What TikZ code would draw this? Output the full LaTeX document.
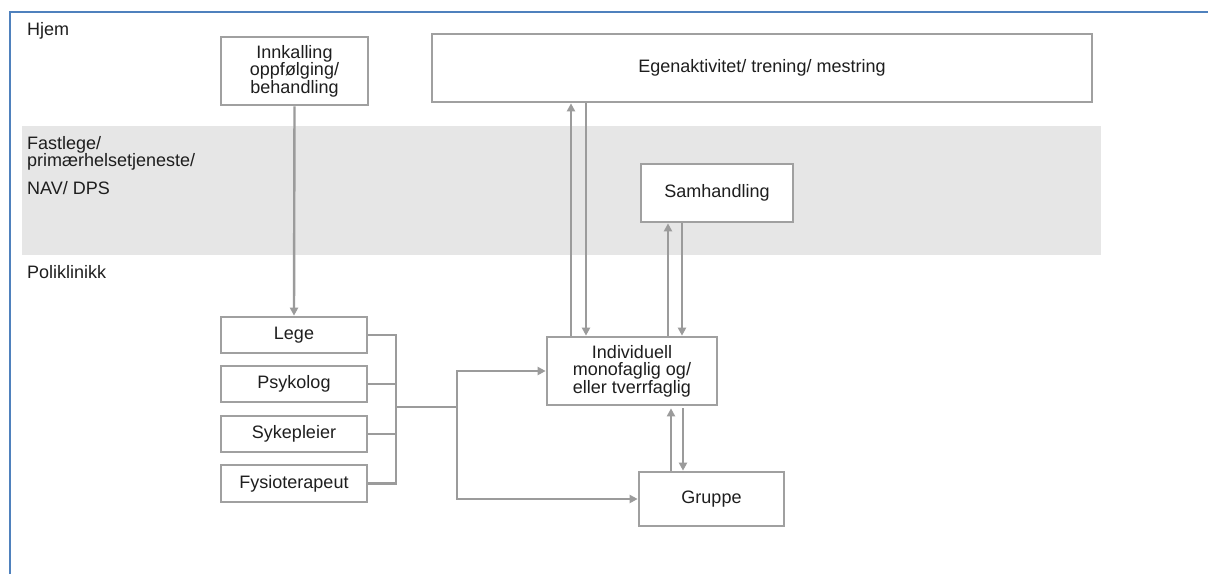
\documentclass[tikz,border=0pt]{standalone}
\usepackage{fontspec}
\setmainfont{Liberation Sans}
\usetikzlibrary{arrows.meta}
\definecolor{framebl}{HTML}{4F81BD}
\definecolor{bandgr}{HTML}{E6E6E6}
\definecolor{boxgr}{HTML}{A0A0A0}
\definecolor{linegr}{HTML}{9B9B9B}
\definecolor{txt}{HTML}{1E1E1E}
\begin{document}
\begin{tikzpicture}[x=1pt,y=-1pt,
  box/.style={draw=boxgr, line width=2.7pt, fill=white, inner sep=0pt, align=center, text=txt, font=\fontsize{18}{17.5}\selectfont},
  lbl/.style={anchor=base west, inner sep=0pt, text=txt, font=\fontsize{18}{17.5}\selectfont},
  conn/.style={draw=linegr, line width=2.4pt},
  arr/.style={conn, -{Triangle[length=8pt,width=8pt]}}]
\useasboundingbox (0,0) rectangle (1208,574);
\fill[white] (0,0) rectangle (1208,574);
\fill[bandgr] (22,126) rectangle (1101,255);
\draw[framebl, line width=2pt] (10,574) -- (10,12) -- (1208,12);

% lane labels
\node[lbl] (hjem) at (27,35) {Hjem};
\node[lbl] (fast1) at (27,149) {Fastlege/};
\node[lbl] (fast2) at (27,166) {primærhelsetjeneste/};
\node[lbl] (nav) at (27,194) {NAV/ DPS};
\node[lbl] (poli) at (27,278) {Poliklinikk};

% boxes
\node[box, minimum width=147pt, minimum height=68pt] (innk) at (294.5,71) {Innkalling\\oppfølging/\\behandling};
\node[box, minimum width=660pt, minimum height=68pt] (egen) at (762,68) {Egenaktivitet/ trening/ mestring};
\node[box, minimum width=152pt, minimum height=58pt] (samh) at (717,193) {Samhandling};
\node[box, minimum width=170pt, minimum height=68pt] (indiv) at (632,371) {Individuell\\monofaglig og/\\eller tverrfaglig};
\node[box, minimum width=145pt, minimum height=54pt] (grup) at (711.5,499) {Gruppe};
\node[box, minimum width=146pt, minimum height=36pt] (lege) at (294,335) {Lege};
\node[box, minimum width=146pt, minimum height=36pt] (psyk) at (294,384) {Psykolog};
\node[box, minimum width=146pt, minimum height=36pt] (syke) at (294,434) {Sykepleier};
\node[box, minimum width=146pt, minimum height=37pt] (fysio) at (294,483.5) {Fysioterapeut};

% helper coordinates
\coordinate (jl) at (396,407);
\coordinate (jr) at (457,407);
\coordinate (a1) at (571,0);
\coordinate (a2) at (586,0);
\coordinate (b1) at (668,0);
\coordinate (b2) at (682,0);
\coordinate (c1) at (671,0);
\coordinate (c2) at (683,0);

% connectors
\draw[arr] (innk.south) -- (lege.north);
\draw[conn] (lege.east) -- (lege.east -| jl) -- (fysio.east -| jl) -- (fysio.east);
\draw[conn] (psyk.east) -- (psyk.east -| jl);
\draw[conn] (syke.east) -- (syke.east -| jl);
\draw[conn] (jl) -- (jr);
\draw[arr] (jr) |- (indiv.west);
\draw[arr] (jr) |- (grup.west);

\draw[arr] (a1 |- indiv.north) -- (a1 |- egen.south);
\draw[arr] (a2 |- egen.south) -- (a2 |- indiv.north);
\draw[arr] (b1 |- indiv.north) -- (b1 |- samh.south);
\draw[arr] (b2 |- samh.south) -- (b2 |- indiv.north);
\draw[arr, shorten >=2pt] (c1 |- grup.north) -- (c1 |- indiv.south);
\draw[arr, shorten <=2pt] (c2 |- indiv.south) -- (c2 |- grup.north);
\end{tikzpicture}
\end{document}
